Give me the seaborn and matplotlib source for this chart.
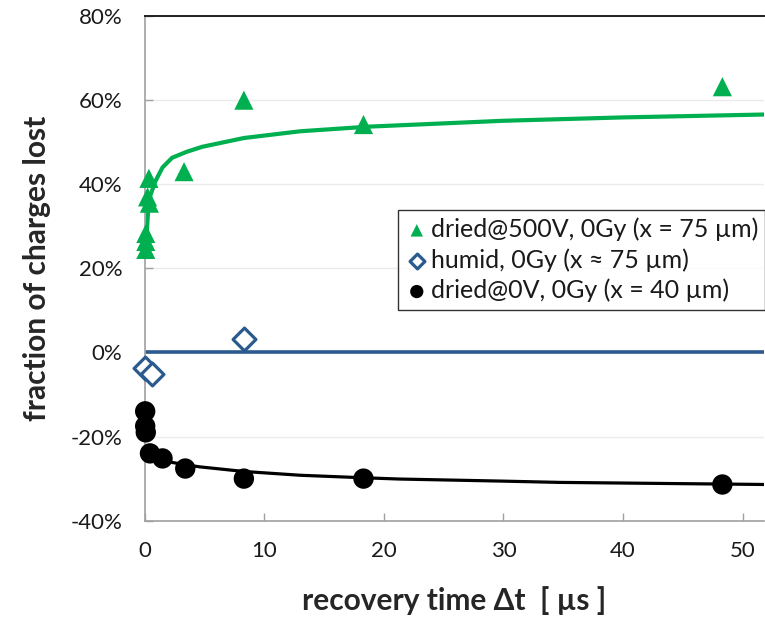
import numpy as np
import pandas as pd
import matplotlib
matplotlib.use("Agg")
import matplotlib.pyplot as plt
import seaborn as sns
from matplotlib.ticker import PercentFormatter

# --- measured data -------------------------------------------------------
# dried @ 500 V, 0 Gy (x = 75 um)
dried500_t = [0.1, 0.1, 0.1, 0.25, 0.4, 0.36, 3.3, 8.3, 18.3, 48.3]
dried500_loss = [0.245, 0.264, 0.283, 0.37, 0.355, 0.414, 0.43, 0.60, 0.542, 0.632]

# humid, 0 Gy (x ~ 75 um)
humid_t = [0.05, 0.6, 8.3]
humid_loss = [-0.036, -0.052, 0.031]

# dried @ 0 V, 0 Gy (x = 40 um)
dried0_t = [0.05, 0.05, 0.1, 0.45, 1.5, 3.4, 8.3, 18.3, 48.3]
dried0_loss = [-0.14, -0.175, -0.19, -0.24, -0.252, -0.276, -0.30, -0.30, -0.314]

# trend curves
trend500_t = [0.15, 0.3, 0.5, 0.9, 1.5, 2.3, 3.5, 4.8, 8.3, 13, 18.7, 30, 40, 52]
trend500_loss = [0.27, 0.34, 0.375, 0.407, 0.44, 0.463, 0.477, 0.489, 0.510,
                 0.526, 0.537, 0.551, 0.559, 0.566]
trend0_t = [0.45, 1.0, 2.0, 3.4, 4.6, 8.3, 13, 18.3, 21.3, 30, 34.7, 45, 52]
trend0_loss = [-0.238, -0.25, -0.26, -0.267, -0.272, -0.283, -0.292, -0.298,
               -0.301, -0.306, -0.309, -0.312, -0.314]
humid_level = 0.0

labels = ["dried@500V, 0Gy (x = 75 µm)",
          "humid, 0Gy (x ≈ 75 µm)",
          "dried@0V, 0Gy (x = 40 µm)"]

x_ticks = [0, 10, 20, 30, 40, 50]
y_ticks = [-0.4, -0.2, 0.0, 0.2, 0.4, 0.6, 0.8]

GREEN = "#00B050"
BLUE = "#2B5A8E"
BLACK = "#000000"

sns.set_theme(style="white")
plt.rcParams["font.family"] = ["Lato", "DejaVu Sans"]
plt.rcParams["axes.unicode_minus"] = False

fig = plt.figure(figsize=(7.65, 6.18), dpi=100)
ax = fig.add_axes([0.189, 0.1575, 0.810, 0.8165])

# trend lines
sns.lineplot(x=trend500_t, y=trend500_loss, ax=ax, color=GREEN, lw=3.0,
             sort=True, zorder=2)
sns.lineplot(x=trend0_t, y=trend0_loss, ax=ax, color=BLACK, lw=2.3,
             sort=True, zorder=2)
ax.axhline(humid_level, color=BLUE, lw=2.6, zorder=2)

# measured points
sns.scatterplot(x=dried500_t, y=dried500_loss, ax=ax, marker="^", s=190,
                color=GREEN, edgecolor="none", linewidth=0, zorder=3,
                label=labels[0])
sns.scatterplot(x=humid_t, y=humid_loss, ax=ax, marker="D", s=135,
                facecolor="white", edgecolor=BLUE, linewidth=2.3, zorder=3,
                label=labels[1])
sns.scatterplot(x=dried0_t, y=dried0_loss, ax=ax, marker="o", s=215,
                color=BLACK, edgecolor="none", linewidth=0, zorder=3,
                label=labels[2])
for coll in ax.collections:
    coll.set_clip_on(False)

ax.set_xlim(0, 51.8)
ax.set_ylim(-0.4, 0.8)
ax.set_xticks(x_ticks)
ax.set_yticks(y_ticks)
ax.yaxis.set_major_formatter(PercentFormatter(1.0, decimals=0))

ax.grid(axis="y", color="#EBEBEB", lw=1.0)
ax.grid(axis="x", visible=False)
ax.set_axisbelow(True)

for side in ("left", "bottom"):
    ax.spines[side].set_color("#A0A0A0")
    ax.spines[side].set_linewidth(1.2)
ax.spines["top"].set_color("#202020")
ax.spines["top"].set_linewidth(1.4)
ax.spines["right"].set_visible(False)

ax.tick_params(axis="both", direction="in", length=6, width=1.0,
               color="#A0A0A0", labelsize=16, labelcolor="#1A1A1A")
ax.tick_params(axis="x", pad=15)
ax.tick_params(axis="y", pad=16)
ax.tick_params(left=True, bottom=True)

ax.set_xlabel("recovery time Δt  [ µs ]", fontsize=21.5, fontweight="bold",
              labelpad=18)
ax.set_ylabel("fraction of charges lost", fontsize=21.5, fontweight="bold",
              labelpad=14)

leg = ax.legend(loc="upper left", bbox_to_anchor=(0.409, 0.616),
                borderaxespad=0, frameon=True, fancybox=False,
                fontsize=18, handletextpad=0.1, borderpad=0.3,
                labelspacing=0.28, handlelength=0.9, markerscale=0.65)
leg.get_frame().set_edgecolor("#000000")
leg.get_frame().set_linewidth(1.0)
for t in leg.get_texts():
    t.set_color("#1A1A1A")

fig.savefig("out.png", dpi=100)
